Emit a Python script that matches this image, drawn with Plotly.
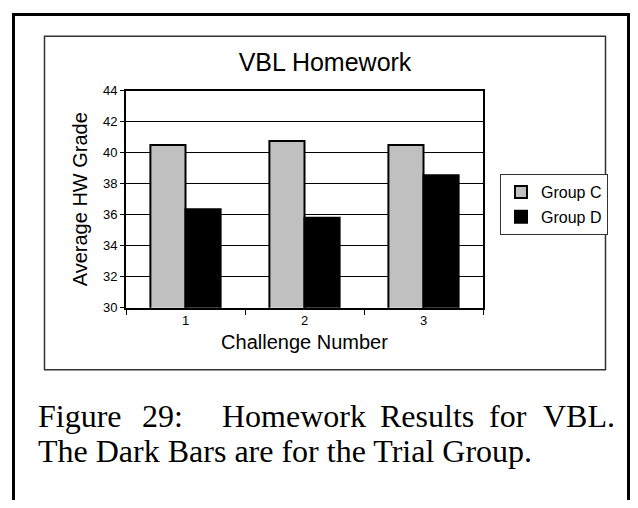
import plotly.graph_objects as go

categories = ["1", "2", "3"]
group_c = [40.5, 40.75, 40.5]
group_d = [36.35, 35.8, 38.55]
series_names = ["Group C", "Group D"]
y_ticks = [30, 32, 34, 36, 38, 40, 42, 44]

# the page body adds an 8px offset, so the figure is drawn smaller and shifted
OFF = 8
W, H = 638 - 2 * OFF, 508 - 2 * OFF


def px(x):
    return (x - OFF) / W


def py(y):
    return 1 - (y - OFF) / H


fig = go.Figure()
fig.add_trace(go.Bar(x=categories, y=group_c, name=series_names[0], legendgroup="c",
                     marker=dict(color="#c0c0c0", line=dict(color="black", width=2))))
fig.add_trace(go.Bar(x=categories, y=group_d, name=series_names[1], legendgroup="d",
                     marker=dict(color="black", line=dict(color="black", width=2))))

font_sans = "Liberation Sans, Arial, sans-serif"
font_serif = "Liberation Serif, Times New Roman, serif"

fig.update_layout(
    width=W, height=H,
    margin=dict(l=0, r=0, t=0, b=0),
    paper_bgcolor="white", plot_bgcolor="white",
    barmode="group", bargap=0.41, bargroupgap=0,
    font=dict(family=font_sans, color="black"),
    title=dict(text="VBL Homework", x=px(325), xanchor="center", y=py(62), yanchor="middle",
               font=dict(size=25, family=font_sans, color="black")),
    xaxis=dict(domain=[px(126), px(483)], type="category",
               showline=True, linecolor="black", linewidth=2, mirror=True,
               ticks="outside", tickson="boundaries", ticklen=5, tickcolor="black", tickwidth=1,
               tickfont=dict(size=13, family=font_sans),
               title=dict(text="Challenge Number", font=dict(size=20, family=font_sans), standoff=8),
               showgrid=False, zeroline=False),
    yaxis=dict(domain=[py(310), py(86)], range=[30, 44], tickvals=y_ticks,
               showline=True, linecolor="black", linewidth=2, mirror=True,
               ticks="outside", ticklen=4, tickcolor="black", tickwidth=1,
               tickfont=dict(size=13, family=font_sans),
               showgrid=True, gridcolor="black", gridwidth=1, zeroline=False,
               title=dict(text="Average HW Grade", font=dict(size=20, family=font_sans), standoff=10)),
    legend=dict(x=px(500), y=py(172), xanchor="left", yanchor="top",
                bordercolor="#333", borderwidth=1, bgcolor="white",
                traceorder="grouped", tracegroupgap=1,
                font=dict(size=16, family=font_sans), itemwidth=30),
    showlegend=True,
)

# inner chart frame and outer page frame
fig.add_shape(type="rect", xref="paper", yref="paper",
              x0=px(44.5), x1=px(605.5), y0=py(374), y1=py(30),
              line=dict(color="#333", width=1.5), fillcolor="rgba(0,0,0,0)")
fig.add_shape(type="rect", xref="paper", yref="paper",
              x0=px(13.5), x1=px(628.5), y0=py(540), y1=py(7.5),
              line=dict(color="black", width=3), fillcolor="rgba(0,0,0,0)")

# caption (justified first line laid out word by word)
line1_words = ["Figure", "29:", "Homework", "Results", "for", "VBL."]
line1_x = [36, 140, 220, 378, 487, 541]
for w, x in zip(line1_words, line1_x):
    fig.add_annotation(text=w, xref="paper", yref="paper", x=px(x), y=py(422),
                       xanchor="left", yanchor="middle", showarrow=False,
                       font=dict(size=32, family=font_serif, color="black"))
fig.add_annotation(text="The Dark Bars are for the Trial Group.", xref="paper", yref="paper",
                   x=px(36), y=py(458), xanchor="left", yanchor="middle", showarrow=False,
                   font=dict(size=32, family=font_serif, color="black"))

fig.write_html("out.html")
